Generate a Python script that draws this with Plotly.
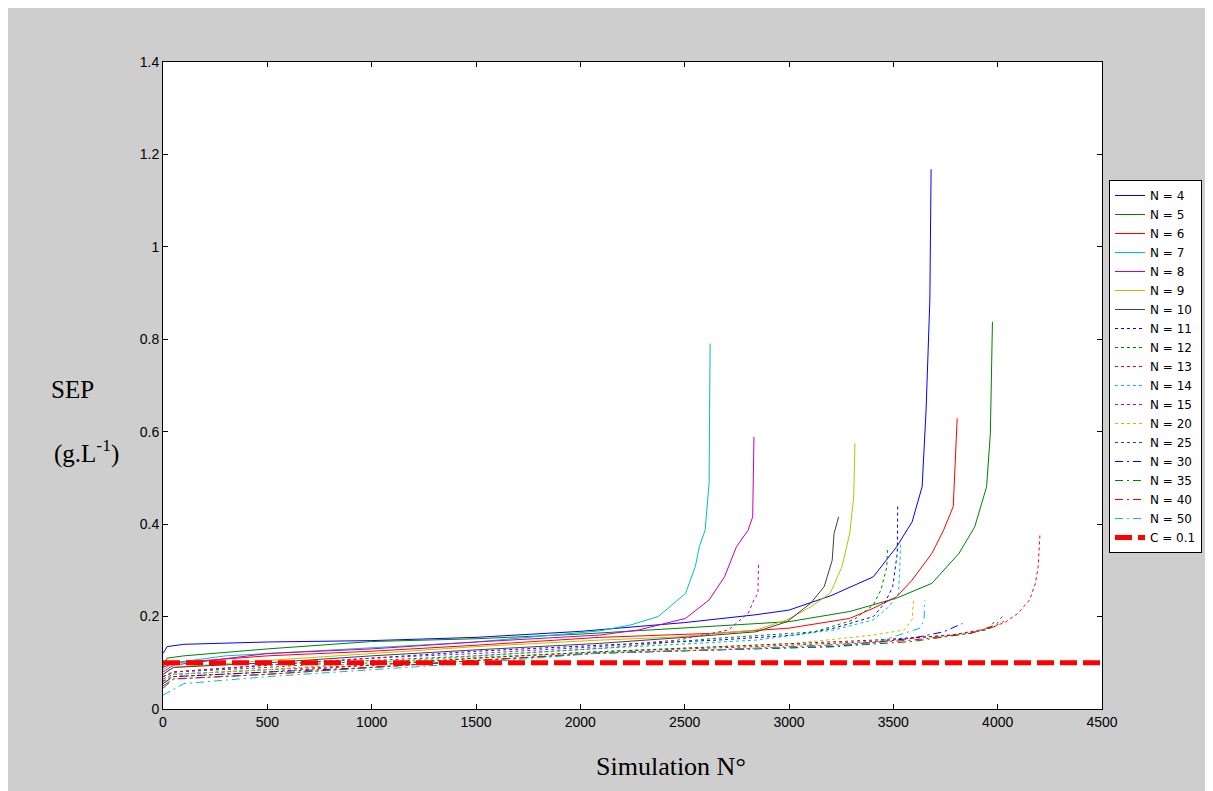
import plotly.graph_objects as go

# ---- data ----
sim_n4 = [0, 20, 100, 500, 1000, 1500, 2000, 2500, 2842, 3000, 3200, 3404, 3516, 3590, 3638, 3657, 3675, 3681]
sep_n4 = [0.12, 0.135, 0.14, 0.145, 0.148, 0.155, 0.168, 0.187, 0.204, 0.214, 0.245, 0.286, 0.351, 0.405, 0.481, 0.647, 0.885, 1.168]

sim_n5 = [0, 20, 100, 500, 1000, 1500, 2000, 2500, 3000, 3291, 3516, 3685, 3815, 3890, 3947, 3965, 3975]
sep_n5 = [0.09, 0.11, 0.115, 0.13, 0.146, 0.152, 0.162, 0.175, 0.189, 0.211, 0.240, 0.272, 0.337, 0.394, 0.481, 0.597, 0.838]

sim_n6 = [0, 50, 500, 1000, 1500, 2092, 2653, 3000, 3291, 3404, 3516, 3590, 3685, 3741, 3787, 3797, 3806]
sep_n6 = [0.09, 0.10, 0.115, 0.125, 0.138, 0.155, 0.164, 0.175, 0.196, 0.218, 0.243, 0.279, 0.337, 0.387, 0.438, 0.524, 0.629]

sim_n7 = [0, 50, 300, 800, 1500, 2092, 2242, 2373, 2504, 2551, 2570, 2598, 2617, 2622]
sep_n7 = [0.085, 0.10, 0.115, 0.128, 0.145, 0.169, 0.182, 0.200, 0.250, 0.308, 0.351, 0.387, 0.488, 0.791]

sim_n8 = [0, 50, 500, 1000, 1500, 2092, 2279, 2504, 2617, 2691, 2748, 2804, 2826, 2832]
sep_n8 = [0.08, 0.095, 0.12, 0.13, 0.145, 0.160, 0.171, 0.196, 0.236, 0.286, 0.351, 0.387, 0.416, 0.589]

sim_n9 = [0, 50, 500, 1000, 1500, 2092, 2467, 2842, 2991, 3104, 3197, 3254, 3291, 3310, 3316]
sep_n9 = [0.075, 0.09, 0.105, 0.12, 0.135, 0.149, 0.156, 0.171, 0.193, 0.221, 0.250, 0.308, 0.380, 0.459, 0.575]

sim_n10 = [0, 50, 500, 1000, 1500, 2092, 2467, 2842, 2991, 3104, 3169, 3207, 3216, 3238]
sep_n10 = [0.075, 0.09, 0.10, 0.115, 0.128, 0.142, 0.154, 0.167, 0.189, 0.229, 0.265, 0.322, 0.380, 0.416]

sim_n11 = [0, 50, 500, 1000, 1500, 2092, 2653, 3029, 3216, 3404, 3459, 3497, 3519, 3521]
sep_n11 = [0.07, 0.08, 0.095, 0.11, 0.125, 0.138, 0.149, 0.160, 0.175, 0.200, 0.229, 0.265, 0.337, 0.441]

sim_n12 = [0, 50, 500, 1000, 1500, 2092, 2653, 3123, 3310, 3404, 3441, 3469, 3472]
sep_n12 = [0.07, 0.08, 0.09, 0.105, 0.115, 0.131, 0.153, 0.167, 0.193, 0.225, 0.258, 0.308, 0.351]

sim_n13 = [0, 50, 500, 1000, 1500, 2092, 2842, 3404, 3778, 3966, 4041, 4097, 4153, 4181, 4194, 4203]
sep_n13 = [0.065, 0.075, 0.085, 0.095, 0.11, 0.124, 0.135, 0.146, 0.160, 0.175, 0.189, 0.207, 0.236, 0.272, 0.308, 0.380]

sim_n14 = [0, 50, 500, 1000, 1500, 2092, 2842, 3216, 3404, 3478, 3525, 3531, 3535]
sep_n14 = [0.06, 0.075, 0.085, 0.10, 0.115, 0.131, 0.149, 0.171, 0.193, 0.221, 0.250, 0.308, 0.359]

sim_n15 = [0, 50, 500, 1000, 1500, 2092, 2467, 2710, 2804, 2832, 2851, 2854]
sep_n15 = [0.07, 0.08, 0.095, 0.11, 0.12, 0.135, 0.149, 0.171, 0.207, 0.236, 0.250, 0.312]

sim_n20 = [0, 50, 500, 1000, 1500, 2092, 2467, 3029, 3404, 3553, 3590, 3597]
sep_n20 = [0.06, 0.075, 0.085, 0.10, 0.112, 0.124, 0.131, 0.142, 0.160, 0.171, 0.193, 0.236]

sim_n25 = [0, 50, 500, 1000, 1500, 2092, 2653, 3404, 3778, 3947, 3994]
sep_n25 = [0.06, 0.07, 0.08, 0.095, 0.11, 0.124, 0.135, 0.149, 0.160, 0.171, 0.193]

sim_n30 = [0, 50, 500, 1000, 1500, 2092, 2653, 3216, 3590, 3741, 3831]
sep_n30 = [0.055, 0.07, 0.08, 0.09, 0.105, 0.121, 0.128, 0.135, 0.153, 0.167, 0.185]

sim_n35 = [0, 50, 500, 1000, 1500, 2092, 2653, 3216, 3590, 3872, 3984, 4022]
sep_n35 = [0.05, 0.065, 0.075, 0.09, 0.105, 0.121, 0.128, 0.135, 0.146, 0.164, 0.178, 0.200]

sim_n40 = [0, 50, 500, 1000, 1500, 2092, 2653, 3216, 3590, 3872, 4012, 4030]
sep_n40 = [0.045, 0.065, 0.075, 0.09, 0.105, 0.121, 0.128, 0.139, 0.149, 0.164, 0.185, 0.190]

sim_n50 = [0, 100, 500, 1000, 1500, 2092, 2842, 3404, 3628, 3647, 3651]
sep_n50 = [0.03, 0.055, 0.07, 0.085, 0.10, 0.121, 0.131, 0.142, 0.175, 0.193, 0.236]

threshold_x = [0, 4500]
threshold_c = 0.1

series_names = ["N = 4", "N = 5", "N = 6", "N = 7", "N = 8", "N = 9", "N = 10",
                "N = 11", "N = 12", "N = 13", "N = 14", "N = 15", "N = 20", "N = 25",
                "N = 30", "N = 35", "N = 40", "N = 50"]
series_x = [sim_n4, sim_n5, sim_n6, sim_n7, sim_n8, sim_n9, sim_n10, sim_n11, sim_n12,
            sim_n13, sim_n14, sim_n15, sim_n20, sim_n25, sim_n30, sim_n35, sim_n40, sim_n50]
series_y = [sep_n4, sep_n5, sep_n6, sep_n7, sep_n8, sep_n9, sep_n10, sep_n11, sep_n12,
            sep_n13, sep_n14, sep_n15, sep_n20, sep_n25, sep_n30, sep_n35, sep_n40, sep_n50]

x_ticks = [0, 500, 1000, 1500, 2000, 2500, 3000, 3500, 4000, 4500]
y_ticks = [0, 0.2, 0.4, 0.6, 0.8, 1, 1.2, 1.4]
y_tick_labels = ["0", "0.2", "0.4", "0.6", "0.8", "1", "1.2", "1.4"]

# ---- styles ----
BLUE, GREEN, RED, CYAN, MAG, YEL, GRAY = "#0000ff", "#008000", "#ff0000", "#00bfbf", "#bf00bf", "#bfbf00", "#404040"
colors = [BLUE, GREEN, RED, CYAN, MAG, YEL, GRAY,
          BLUE, GREEN, RED, CYAN, MAG, YEL, GRAY,
          BLUE, GREEN, RED, CYAN]
DOT = "3px,3px"
DASHDOT = "8px,4px,2px,4px"
dashes = ["solid"] * 7 + [DOT] * 7 + [DASHDOT] * 4

fig = go.Figure()
for name, xs, ys, c, d in zip(series_names, series_x, series_y, colors, dashes):
    fig.add_trace(go.Scatter(x=xs, y=ys, mode="lines", name=name,
                             line=dict(color=c, width=1, dash=d)))

fig.add_trace(go.Scatter(x=threshold_x, y=[threshold_c] * len(threshold_x), mode="lines",
                         name="C = 0.1", line=dict(color=RED, width=5, dash="17px,6px")))

# page body adds an 8px offset; work in reference pixel coordinates
OFF = 8
W, H = 1213 - OFF, 791 - OFF
L, R, T, B = 163 - OFF, 1103 - OFF, 62 - OFF, 709 - OFF
pw, ph = R - L, B - T

def px_x(p):
    return (p - OFF - L) / pw

def px_y(p):
    return (B - (p - OFF)) / ph

axis_common = dict(showgrid=False, zeroline=False, showline=True, linecolor="#000000",
                   linewidth=1, mirror="allticks", ticks="inside", ticklen=5,
                   tickcolor="#000000", tickfont=dict(family="Liberation Sans, Arial", size=14, color="#000000"))

fig.update_layout(
    width=W, height=H,
    margin=dict(l=L, r=W - R, t=T, b=H - B, pad=0),
    paper_bgcolor="#cecece",
    plot_bgcolor="#ffffff",
    showlegend=True,
    legend=dict(x=px_x(1109), y=px_y(180), xanchor="left", yanchor="top",
                bgcolor="#ffffff", bordercolor="#000000", borderwidth=1,
                font=dict(family="DejaVu Sans, Verdana", size=12, color="#000000"),
                itemwidth=30, tracegroupgap=0),
    xaxis=dict(range=[0, 4500], tickvals=x_ticks, ticktext=[str(v) for v in x_ticks], **axis_common),
    yaxis=dict(range=[0, 1.4], tickvals=y_ticks, ticktext=y_tick_labels, **axis_common),
)

serif = "Liberation Serif, Times New Roman, serif"
fig.add_annotation(text="SEP", xref="paper", yref="paper", x=px_x(72.5), y=px_y(389),
                   xanchor="center", yanchor="middle", showarrow=False,
                   font=dict(family=serif, size=25, color="#000000"))
fig.add_annotation(text="(g.L<sup>-1</sup>)", xref="paper", yref="paper", x=px_x(86), y=px_y(451),
                   xanchor="center", yanchor="middle", showarrow=False,
                   font=dict(family=serif, size=25, color="#000000"))
fig.add_annotation(text="Simulation N°", xref="paper", yref="paper", x=px_x(672), y=px_y(766),
                   xanchor="center", yanchor="middle", showarrow=False,
                   font=dict(family=serif, size=26, color="#000000"))

fig.write_html("out.html")
